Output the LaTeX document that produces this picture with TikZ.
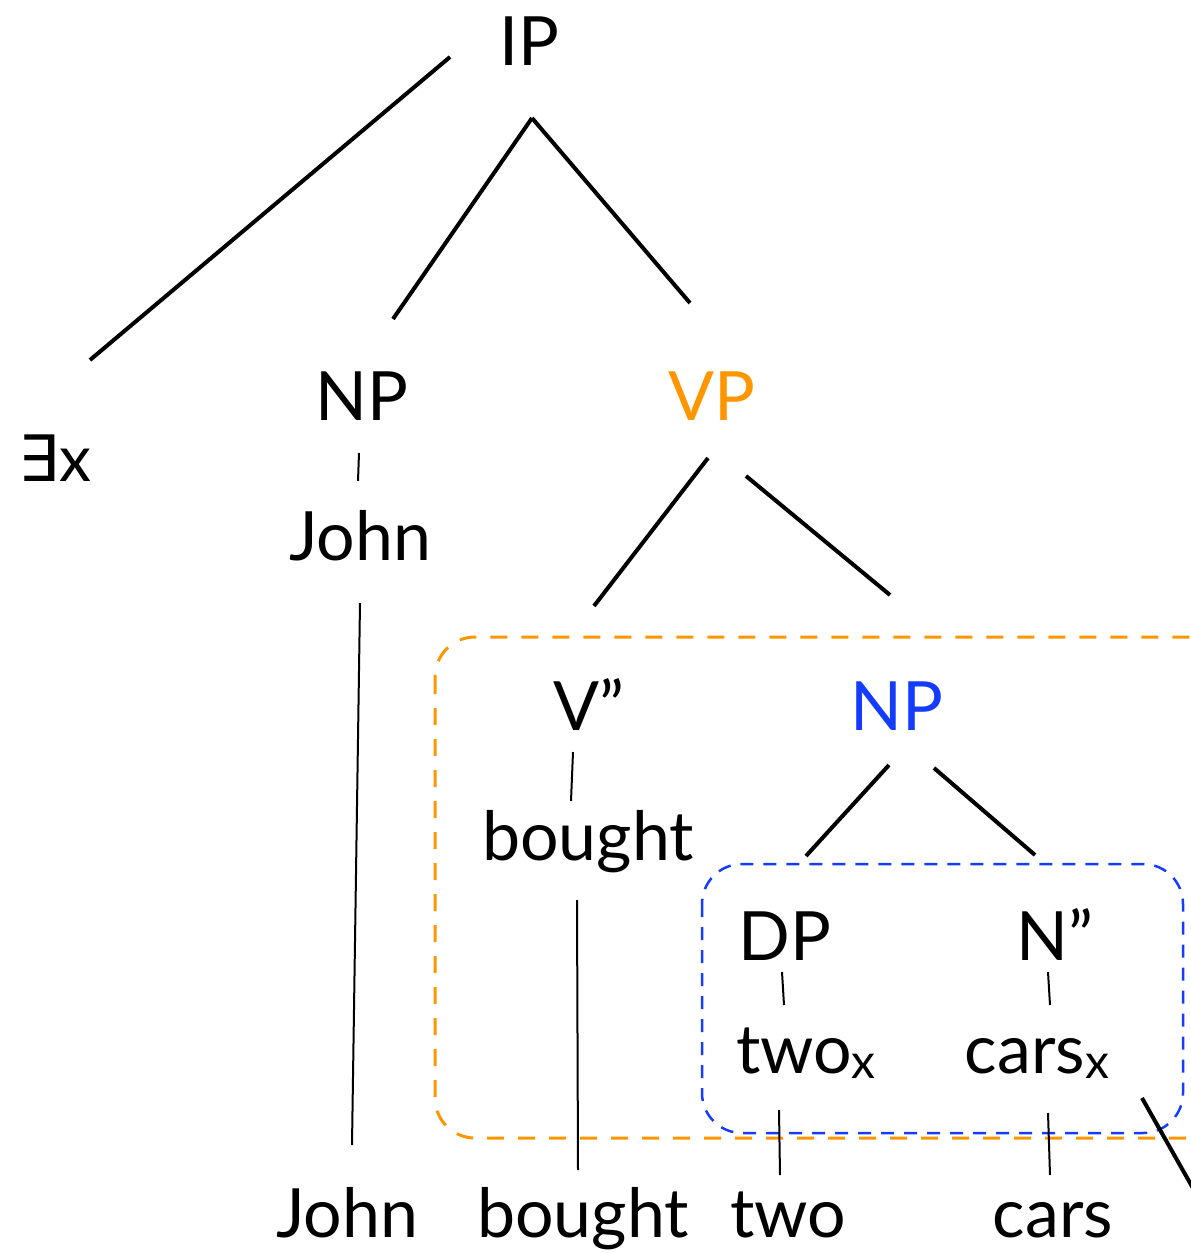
\documentclass[tikz,border=0pt]{standalone}
\usepackage{fontspec}
\setmainfont{Lato}
\newfontfamily\djv{DejaVu Sans}
\definecolor{orng}{RGB}{255,150,0}
\definecolor{blu}{RGB}{20,60,255}
\newcommand\subx{\raisebox{-5pt}{\fontsize{48}{48}\selectfont x}}
\begin{document}
\begin{tikzpicture}[x=1pt,y=-1pt,
  lbl/.style={anchor=base,inner sep=0pt,font=\fontsize{68}{70}\selectfont},
  branchline/.style={line width=4pt},
  twigline/.style={line width=2pt},
  obox/.style={draw=orng,line width=3pt,dash pattern=on 17pt off 14pt,rounded corners=40pt},
  bbox/.style={draw=blu,line width=2.5pt,dash pattern=on 13pt off 10pt,rounded corners=40pt}]
\useasboundingbox (0,0) rectangle (1191,1253);
\clip (0,0) rectangle (1191,1253);
% boxes
\draw[obox] (435,637) rectangle (1225,1138);
\draw[bbox] (702,864) rectangle (1183,1133);
% labels
\node[lbl,font=\fontsize{64}{66}\selectfont] (ex) at (55,481) {{\djv ∃}x};
\node[lbl] (ip) at (529,65) {IP};
\node[lbl] (np) at (362,420) {NP};
\node[lbl,text=orng] (vp) at (712,420) {VP};
\node[lbl] (john) at (360,560) {John};
\node[lbl] (vbar) at (589,730) {V”};
\node[lbl,text=blu] (np2) at (897,730) {NP};
\node[lbl] (bought) at (588,860) {bought};
\node[lbl] (dp) at (785,960) {DP};
\node[lbl] (nbar) at (1055,960) {N”};
\node[lbl] (twox) at (806,1073) {two\subx};
\node[lbl] (carsx) at (1037,1073) {cars\subx};
\node[lbl] (johnb) at (347,1237) {John};
\node[lbl] (boughtb) at (583,1237) {bought};
\node[lbl] (twob) at (788,1237) {two};
\node[lbl] (carsb) at (1053,1237) {cars};
% connector ends
\coordinate (ip-l) at (450,57);
\coordinate (ip-b) at (532,118);
\coordinate (ex-t) at (90,360);
\coordinate (np-t) at (393,319);
\coordinate (vp-t) at (690,303);
\coordinate (np-b) at (359,453);
\coordinate (john-t) at (358,481);
\coordinate (john-b) at (360,603);
\coordinate (johnb-t) at (352,1145);
\coordinate (vp-bl) at (708,458);
\coordinate (vp-br) at (746,476);
\coordinate (vbar-t) at (594,606);
\coordinate (np2-t) at (890,595);
\coordinate (vbar-b) at (573,752);
\coordinate (bought-t) at (571,801);
\coordinate (bought-b) at (577,900);
\coordinate (boughtb-t) at (578,1170);
\coordinate (np2-bl) at (889,765);
\coordinate (np2-br) at (934,768);
\coordinate (dp-t) at (806,856);
\coordinate (nbar-t) at (1035,855);
\coordinate (dp-b) at (782,972);
\coordinate (twox-t) at (784,1005);
\coordinate (nbar-b) at (1048,972);
\coordinate (carsx-t) at (1050,1005);
\coordinate (twox-b) at (779,1110);
\coordinate (twob-t) at (780,1175);
\coordinate (carsx-b) at (1048,1113);
\coordinate (carsb-t) at (1050,1175);
\coordinate (carsx-r) at (1142,1098);
\coordinate (off-r) at (1220,1236);
% connectors
\draw[branchline] (ip-l) -- (ex-t);
\draw[branchline] (ip-b) -- (np-t);
\draw[branchline] (ip-b) -- (vp-t);
\draw[twigline] (np-b) -- (john-t);
\draw[twigline] (john-b) -- (johnb-t);
\draw[branchline] (vp-bl) -- (vbar-t);
\draw[branchline] (vp-br) -- (np2-t);
\draw[twigline] (vbar-b) -- (bought-t);
\draw[twigline] (bought-b) -- (boughtb-t);
\draw[branchline] (np2-bl) -- (dp-t);
\draw[branchline] (np2-br) -- (nbar-t);
\draw[twigline] (dp-b) -- (twox-t);
\draw[twigline] (nbar-b) -- (carsx-t);
\draw[twigline] (twox-b) -- (twob-t);
\draw[twigline] (carsx-b) -- (carsb-t);
\draw[branchline] (carsx-r) -- (off-r);
\end{tikzpicture}
\end{document}
